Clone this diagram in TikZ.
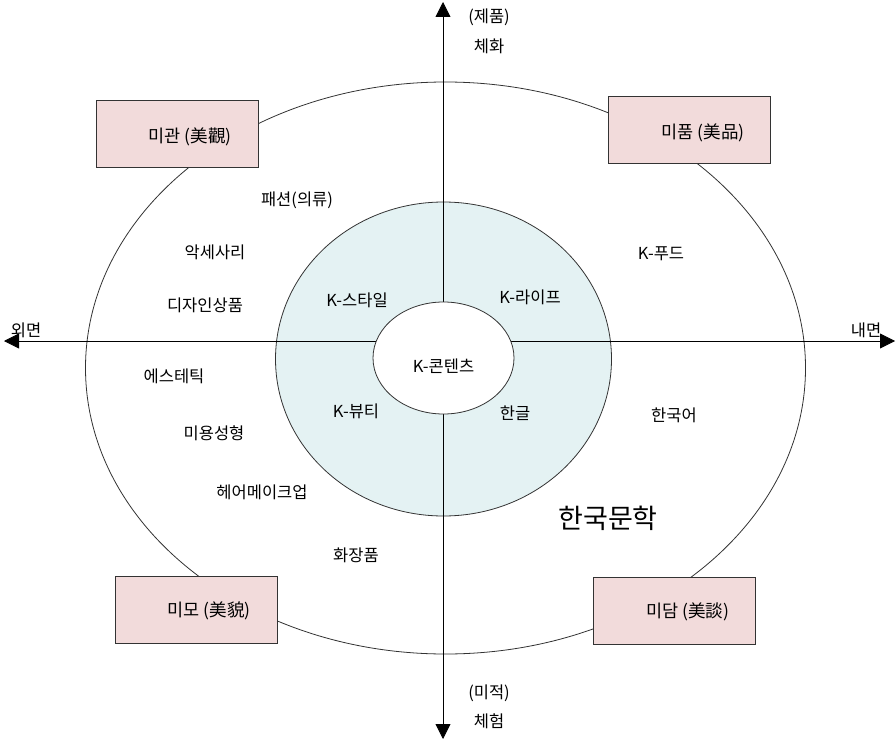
\documentclass[tikz,border=0pt]{standalone}
\usepackage{fontspec}
\setmainfont{Noto Sans CJK KR}
\usetikzlibrary{arrows.meta,shapes.geometric}
\definecolor{boxpink}{HTML}{F2DBDB}
\definecolor{innercyan}{HTML}{E4F2F3}
\definecolor{edge}{HTML}{333333}
\begin{document}
\begin{tikzpicture}[x=1pt,y=-1pt,
  lbl/.style={font=\fontsize{16.5}{18}\selectfont, inner sep=0pt},
  boxlbl/.style={font=\fontsize{17.5}{19}\selectfont, inner sep=0pt},
  mibox/.style={draw=edge, fill=boxpink, line width=0.8pt, minimum width=162pt, minimum height=67pt},
  axis/.style={line width=0.8pt, -{Triangle[width=15pt,length=15pt]}},
  ring/.style={line width=0.8pt, draw=edge}]
\useasboundingbox (0,0) rectangle (896,741);
% outer ellipse
\draw[ring] (445.5,368) ellipse [x radius=360, y radius=286];
% inner cyan ellipse
\fill[innercyan] (443.5,359) ellipse [x radius=168, y radius=157];
\draw[ring] (443.5,359) ellipse [x radius=168, y radius=157];
% axes
\coordinate (c) at (443,341);
\coordinate (top) at (443,2);
\coordinate (bot) at (443,739);
\coordinate (lft) at (4,341);
\coordinate (rgt) at (895,341);
\draw[axis] (c) -- (top);
\draw[axis] (c) -- (bot);
\draw[axis] (c) -- (lft);
\draw[axis] (c) -- (rgt);
% inner white ellipse
\node[ring, fill=white, ellipse, minimum width=141pt, minimum height=112pt] (core) at (443.5,358) {};
\node[lbl] (kcont) at (443.5,366) {K-콘텐츠};
% boxes
\node[mibox] (migwan) at (177,134) {};
\node[mibox] (mipum) at (689,130) {};
\node[mibox] (mimo) at (196,610) {};
\node[mibox] (midam) at (674.5,611) {};
\node[boxlbl] (migwant) at ([shift={(13,3)}]migwan.center) {미관 (美觀)};
\node[boxlbl] (mipumt) at ([shift={(14,3)}]mipum.center) {미품 (美品)};
\node[boxlbl] (mimot) at ([shift={(13,1)}]mimo.center) {미모 (美貌)};
\node[boxlbl] (midamt) at ([shift={(13,1)}]midam.center) {미담 (美談)};
% labels
\node[lbl] (a1) at (297,200) {패션(의류)};
\node[lbl] (a2) at (215,252) {악세사리};
\node[lbl] (a3) at (205,305) {디자인상품};
\node[lbl] (a4) at (174,376) {에스테틱};
\node[lbl] (a5) at (214,433) {미용성형};
\node[lbl] (a6) at (262,492) {헤어메이크업};
\node[lbl] (a7) at (356,555) {화장품};
\node[lbl] (k1) at (357,300) {K-스타일};
\node[lbl] (k2) at (530,297) {K-라이프};
\node[lbl] (k3) at (356,411) {K-뷰티};
\node[lbl] (k4) at (515,413) {한글};
\node[lbl] (b1) at (661,254) {K-푸드};
\node[lbl] (b2) at (674,415) {한국어};
\node[lbl, font=\fontsize{27}{30}\selectfont] (b3) at (608,518) {한국문학};
\node[lbl] (outer) at (26,330) {외면};
\node[lbl] (inner) at (866,330) {내면};
\node[lbl] (t1) at (489,17) {(제품)};
\node[lbl] (t2) at (489,46) {체화};
\node[lbl] (u1) at (489,693) {(미적)};
\node[lbl] (u2) at (489,721) {체험};
\end{tikzpicture}
\end{document}
